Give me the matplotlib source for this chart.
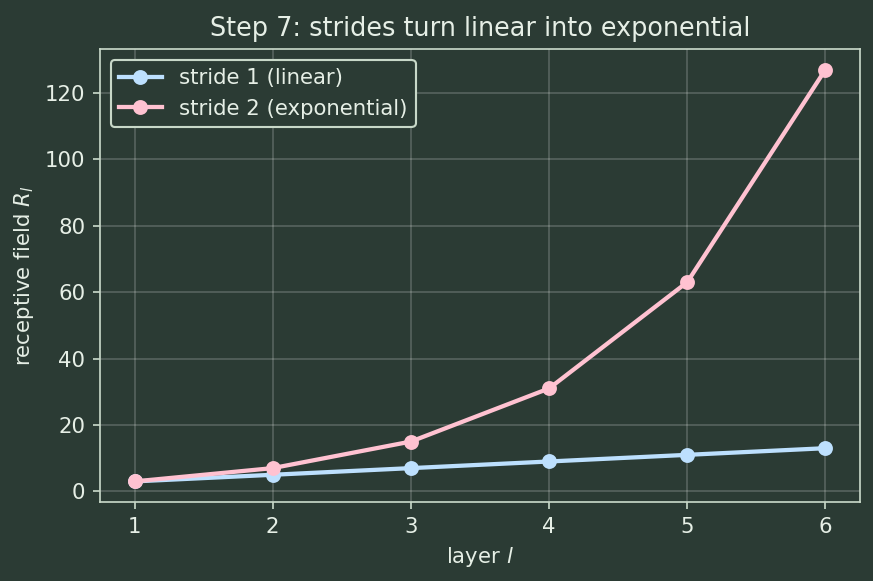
import matplotlib
matplotlib.use("Agg")
import matplotlib.pyplot as plt

layers = [1, 2, 3, 4, 5, 6]
stride1 = [3, 5, 7, 9, 11, 13]
stride2 = [3, 7, 15, 31, 63, 127]

bg = "#2b3b34"
fg = "#e6efe6"
edge = "#c8d8c8"

plt.rcParams.update({
    "text.color": fg,
    "axes.labelcolor": fg,
    "xtick.color": fg,
    "ytick.color": fg,
    "axes.edgecolor": edge,
})

W, H, DPI = 873, 581, 153
fig, ax = plt.subplots(figsize=(W / DPI, H / DPI), dpi=DPI)
fig.patch.set_facecolor(bg)
ax.set_facecolor(bg)

ax.plot(layers, stride1, marker="o", color="#bde0fe", lw=2, label="stride 1 (linear)")
ax.plot(layers, stride2, marker="o", color="#ffc2d1", lw=2, label="stride 2 (exponential)")

ax.set_xlabel("layer $l$")
ax.set_ylabel("receptive field $R_l$")
ax.set_title("Step 7: strides turn linear into exponential", fontsize=12)
ax.grid(True, color="white", alpha=0.2)
ax.tick_params(colors=edge, labelcolor=fg)

leg = ax.legend(loc="upper left", facecolor=bg, edgecolor=edge, framealpha=1)
for t in leg.get_texts():
    t.set_color(fg)

fig.subplots_adjust(left=100 / W, right=860 / W, top=1 - 49 / H, bottom=1 - 502 / H)
fig.savefig("out.png", facecolor=bg)
